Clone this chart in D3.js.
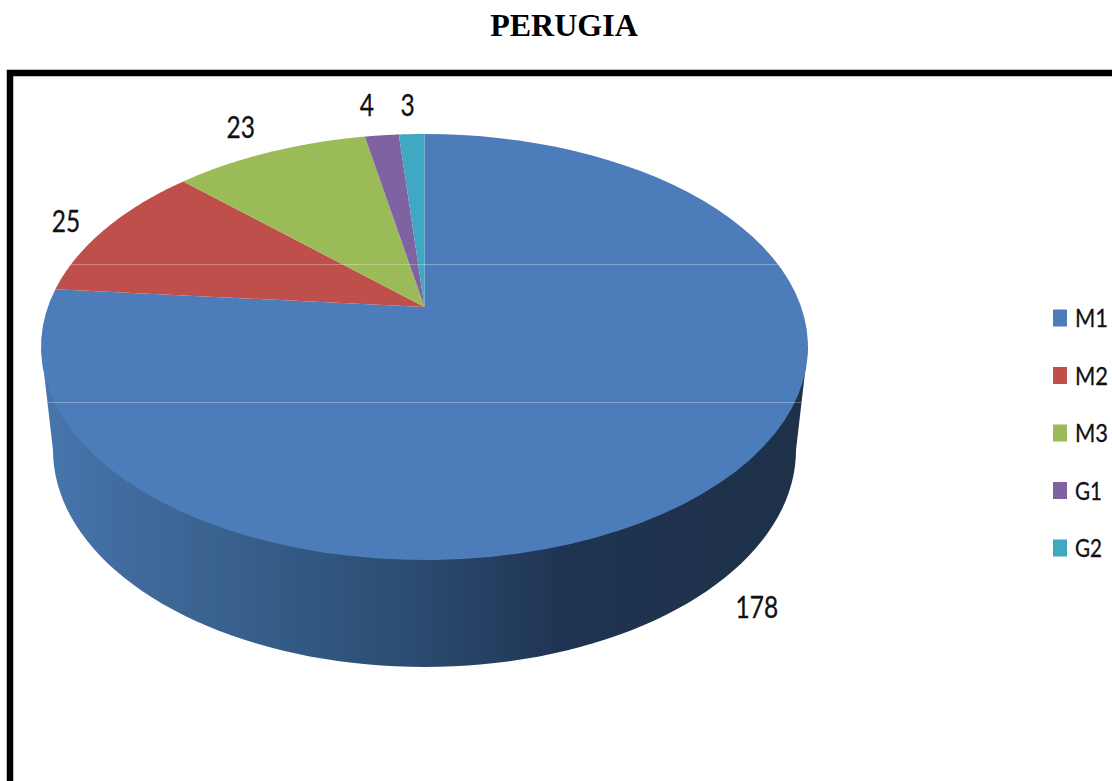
<!DOCTYPE html>
<html>
<head>
<meta charset="utf-8">
<script src="https://cdn.jsdelivr.net/npm/d3@7/dist/d3.min.js"></script>
<style>
    body { margin: 0; background: #fff; }
    svg { display: block; }
</style>
</head>
<body>
<div id="chart"></div>
<script>
const categories = ["M1", "M2", "M3", "G1", "G2"];
const seriesValues = [178, 25, 23, 4, 3];
const sliceColors = ["#4c7dba", "#bf4f4b", "#9bba58", "#7f62a1", "#40a8c2"];

const width = 1112, height = 781;

//top face of the pie, plus where the perspective puts the centre of the circle
const faceX = d3.scaleLinear().domain([-1, 1]).range([41, 808]);
const faceY = d3.scaleLinear().domain([-1, 1]).range([134, 560]);
const tilt = 0.188;

//wall underneath (lower rim is a bit narrower)
const rimX = d3.scaleLinear().domain([-1, 1]).range([53, 796]);
const rimY = d3.scaleLinear().domain([0, 1]).range([450, 667]);

//angle (clockwise from top) + radius -> screen point, perspective of a tilted disc
const project = (angle, r = 1) => {
    const u = r * Math.sin(angle), v = -r * Math.cos(angle);
    const d = 1 - tilt * v;
    return [faceX(u * Math.sqrt(1 - tilt * tilt) / d), faceY((v - tilt) / d)];
};

const line = d3.line();
const arcSteps = (a0, a1) => d3.range(0, 81).map(i => a0 + (a1 - a0) * i / 80);

const svg = d3.select("#chart").append("svg")
    .attr("width", width)
    .attr("height", height);

const defs = svg.append("defs");

const wallGradient = defs.append("linearGradient")
    .attr("id", "wallGradient")
    .attr("gradientUnits", "userSpaceOnUse")
    .attr("x1", faceX(-1)).attr("x2", faceX(1))
    .attr("y1", 0).attr("y2", 0);
[[0, "#4676ae"], [0.13, "#41699b"], [0.33, "#335a84"], [0.5, "#2b4a6f"], [0.68, "#1f3452"], [1, "#1e3149"]]
    .forEach(s => wallGradient.append("stop").attr("offset", s[0]).attr("stop-color", s[1]));

// title
svg.append("text")
    .attr("x", 564)
    .attr("y", 36)
    .attr("text-anchor", "middle")
    .attr("font-family", "Liberation Serif")
    .attr("font-weight", "bold")
    .attr("font-size", 32)
    .attr("fill", "#000")
    .text("PERUGIA");

// frame, runs off the right and bottom of the page
svg.append("rect")
    .attr("x", 10).attr("y", 73)
    .attr("width", width + 20).attr("height", height)
    .attr("fill", "none")
    .attr("stroke", "#000")
    .attr("stroke-width", 6.5);

// wall silhouette, lower half of the rim ellipse from left to right
const rimPoints = arcSteps(Math.PI, 0)
    .map(a => [rimX(Math.cos(a)), rimY(Math.sin(a))]);
const wallPath = line([[faceX(-1), faceY(0)], ...rimPoints, [faceX(1), faceY(0)]]) + "Z";

svg.append("path")
    .attr("d", wallPath)
    .attr("fill", "url(#wallGradient)");

// slices on the top face
const pie = d3.pie().sort(null).startAngle(0).endAngle(Math.PI * 2);
const arcs = pie(seriesValues);
const apex = project(0, 0);

const slicePath = d => line([apex, ...arcSteps(d.startAngle, d.endAngle).map(a => project(a))]) + "Z";

svg.append("g")
    .selectAll("path")
    .data(arcs)
    .join("path")
    .attr("d", slicePath)
    .attr("fill", (d, i) => sliceColors[i]);

// two pale scan lines that cross the pie
const clip = defs.append("clipPath").attr("id", "pieClip");
clip.append("path").attr("d", wallPath);
arcs.forEach(d => clip.append("path").attr("d", slicePath(d)));

svg.append("g")
    .attr("clip-path", "url(#pieClip)")
    .selectAll("line")
    .data([264.5, 402.5])
    .join("line")
    .attr("x1", 0).attr("x2", width)
    .attr("y1", d => d).attr("y2", d => d)
    .attr("stroke", "#fff")
    .attr("stroke-opacity", 0.3);

// value labels: rim midpoint of the slice, then moved out like the original layout
const labelNudge = [[37, 124], [-40, -7], [-29, -25], [-15, -30], [-4, -29]];
const digitWidth = 14.2;

svg.append("g")
    .selectAll("text")
    .data(arcs)
    .join("text")
    .attr("x", (d, i) => project((d.startAngle + d.endAngle) / 2)[0] + labelNudge[i][0])
    .attr("y", (d, i) => project((d.startAngle + d.endAngle) / 2)[1] + labelNudge[i][1] + 11)
    .attr("text-anchor", "middle")
    .attr("font-family", "Lato")
    .attr("font-size", 30)
    .attr("fill", "#111")
    .attr("stroke", "#111")
    .attr("stroke-width", 0.3)
    .attr("textLength", d => String(d.value).length * digitWidth)
    .attr("lengthAdjust", "spacingAndGlyphs")
    .text(d => d.value);

// legend
const legendY = d3.scalePoint().domain(categories).range([318, 548]);
const legend = svg.append("g")
    .selectAll("g")
    .data(categories)
    .join("g")
    .attr("transform", d => `translate(1053,${legendY(d)})`);

legend.append("rect")
    .attr("y", -8.5)
    .attr("width", 14)
    .attr("height", 17)
    .attr("fill", (d, i) => sliceColors[i]);

legend.append("text")
    .attr("x", 22)
    .attr("y", 9)
    .attr("font-family", "Lato")
    .attr("font-size", 25)
    .attr("fill", "#111")
    .attr("stroke", "#111")
    .attr("stroke-width", 0.3)
    .attr("textLength", d => d[0] === "M" ? 33 : 27)
    .attr("lengthAdjust", "spacingAndGlyphs")
    .text(d => d);
</script>
</body>
</html>
